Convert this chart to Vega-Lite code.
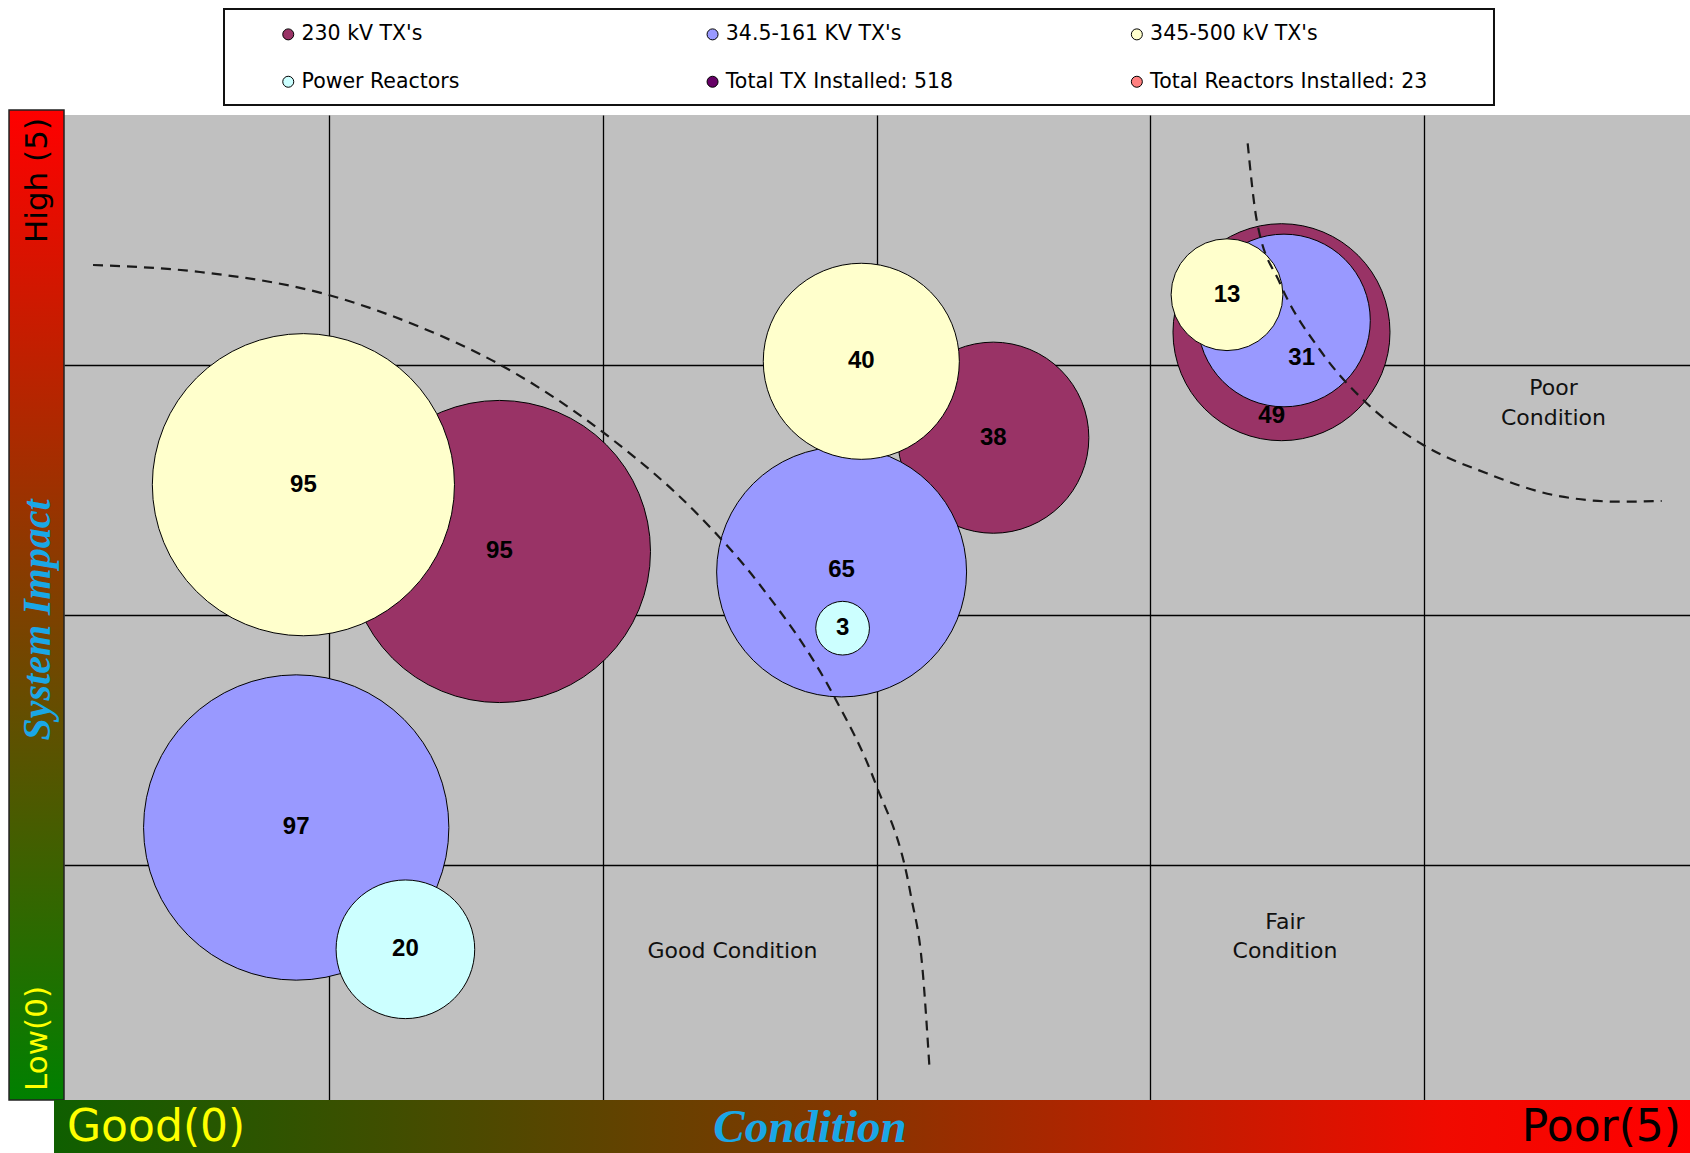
{
  "$schema": "https://vega.github.io/schema/vega-lite/v6.json",
  "width": 1626,
  "height": 985,
  "autosize": {"type": "none"},
  "padding": {"left": 64, "top": 115, "right": 0, "bottom": 53},
  "background": "white",
  "config": {"view": {"fill": "#c0c0c0", "stroke": null}},
  "datasets": {
    "bubbles": [
      {"series": "230 kV TX's", "x": 1.6224, "y": 2.255, "n": 95, "lx": 1.6224, "ly": 2.255},
      {"series": "230 kV TX's", "x": 3.4262, "y": 2.7106, "n": 38, "lx": 3.4262, "ly": 2.7106},
      {"series": "230 kV TX's", "x": 4.4788, "y": 3.1329, "n": 49, "lx": 4.443, "ly": 2.7975},
      {"series": "34.5-161 KV TX's", "x": 0.8802, "y": 1.1501, "n": 97, "lx": 0.8802, "ly": 1.1501},
      {"series": "34.5-161 KV TX's", "x": 2.8722, "y": 2.173, "n": 65, "lx": 2.8722, "ly": 2.18},
      {"series": "34.5-161 KV TX's", "x": 4.4879, "y": 3.1798, "n": 31, "lx": 4.5526, "ly": 3.0284},
      {"series": "345-500 kV TX's", "x": 0.9065, "y": 2.5224, "n": 95, "lx": 0.9065, "ly": 2.5224},
      {"series": "345-500 kV TX's", "x": 2.9441, "y": 3.0164, "n": 40, "lx": 2.9441, "ly": 3.0164},
      {"series": "345-500 kV TX's", "x": 4.2798, "y": 3.283, "n": 13, "lx": 4.2798, "ly": 3.283},
      {"series": "Power Reactors", "x": 1.279, "y": 0.6625, "n": 20, "lx": 1.279, "ly": 0.6625},
      {"series": "Power Reactors", "x": 2.8758, "y": 1.948, "n": 3, "lx": 2.8758, "ly": 1.948}
    ],
    "curves": [
      {"curve": "A", "x": 0.1381, "y": 3.4019},
      {"curve": "A", "x": 0.5289, "y": 3.3739},
      {"curve": "A", "x": 0.9985, "y": 3.2818},
      {"curve": "A", "x": 1.3324, "y": 3.1537},
      {"curve": "A", "x": 1.6161, "y": 3.008},
      {"curve": "A", "x": 1.9993, "y": 2.7334},
      {"curve": "A", "x": 2.355, "y": 2.3943},
      {"curve": "A", "x": 2.5741, "y": 2.1209},
      {"curve": "A", "x": 2.8418, "y": 1.6806},
      {"curve": "A", "x": 2.9953, "y": 1.3283},
      {"curve": "A", "x": 3.1245, "y": 0.8815},
      {"curve": "A", "x": 3.168, "y": 0.5797},
      {"curve": "A", "x": 3.1925, "y": 0.1994},
      {"curve": "B", "x": 4.3553, "y": 3.8891},
      {"curve": "B", "x": 4.3882, "y": 3.5821},
      {"curve": "B", "x": 4.4733, "y": 3.3287},
      {"curve": "B", "x": 4.6194, "y": 3.0616},
      {"curve": "B", "x": 4.7776, "y": 2.8615},
      {"curve": "B", "x": 4.9967, "y": 2.6814},
      {"curve": "B", "x": 5.2283, "y": 2.5681},
      {"curve": "B", "x": 5.4715, "y": 2.4812},
      {"curve": "B", "x": 5.7151, "y": 2.4544},
      {"curve": "B", "x": 5.8674, "y": 2.4572}
    ]
  },
  "layer": [
    {
      "data": {"values": [{}]},
      "mark": {"type": "rect", "fill": {"gradient": "linear", "x1": 0, "y1": 0, "x2": 0, "y2": 1, "stops": [{"offset": 0, "color": "#ff0000"}, {"offset": 1, "color": "#008000"}]}, "stroke": "#222", "strokeWidth": 1.5},
      "encoding": {
        "x": {"datum": -0.1687, "type": "quantitative", "scale": {"domain": [0.0321, 5.9708], "nice": false, "zero": false}, "axis": {"values": [1, 2, 3, 4, 5], "grid": true, "gridColor": "#000", "gridWidth": 1.3, "gridOpacity": 1, "labels": false, "ticks": false, "domain": false, "title": null}},
        "x2": {"datum": 0.0321},
        "y": {"datum": 4.0224, "type": "quantitative", "scale": {"domain": [0.0592, 4.0024], "nice": false, "zero": false}, "axis": {"values": [1, 2, 3], "grid": true, "gridColor": "#000", "gridWidth": 1.3, "gridOpacity": 1, "labels": false, "ticks": false, "domain": false, "title": null}},
        "y2": {"datum": 0.0592}
      }
    },
    {
      "data": {"values": [{}]},
      "mark": {"type": "rect", "fill": {"gradient": "linear", "x1": 0, "y1": 0, "x2": 1, "y2": 0, "stops": [{"offset": 0, "color": "#0f5f00"}, {"offset": 0.45, "color": "#7a3a00"}, {"offset": 0.85, "color": "#f00a00"}, {"offset": 1, "color": "#ff0000"}]}},
      "encoding": {
        "x": {"datum": -0.0044, "type": "quantitative", "axis": {"values": [1, 2, 3, 4, 5], "grid": true, "gridColor": "#000", "gridWidth": 1.3, "gridOpacity": 1, "labels": false, "ticks": false, "domain": false, "title": null}},
        "x2": {"datum": 5.9708},
        "y": {"datum": 0.0592, "type": "quantitative", "axis": {"values": [1, 2, 3], "grid": true, "gridColor": "#000", "gridWidth": 1.3, "gridOpacity": 1, "labels": false, "ticks": false, "domain": false, "title": null}},
        "y2": {"datum": -0.1529}
      }
    },
    {
      "data": {"values": [{}]},
      "mark": {"type": "rect", "fill": "white", "stroke": "#111", "strokeWidth": 2},
      "encoding": {
        "x": {"datum": 0.6165, "type": "quantitative", "axis": {"values": [1, 2, 3, 4, 5], "grid": true, "gridColor": "#000", "gridWidth": 1.3, "gridOpacity": 1, "labels": false, "ticks": false, "domain": false, "title": null}},
        "x2": {"datum": 5.2549},
        "y": {"datum": 4.4268, "type": "quantitative", "axis": {"values": [1, 2, 3], "grid": true, "gridColor": "#000", "gridWidth": 1.3, "gridOpacity": 1, "labels": false, "ticks": false, "domain": false, "title": null}},
        "y2": {"datum": 4.0424}
      }
    },
    {
      "data": {"name": "bubbles"},
      "mark": {"type": "point", "shape": "circle", "filled": true, "opacity": 1, "stroke": "#000", "strokeWidth": 1},
      "encoding": {
        "x": {"field": "x", "type": "quantitative", "scale": {"domain": [0.0321, 5.9708], "nice": false, "zero": false}, "axis": {"values": [1, 2, 3, 4, 5], "grid": true, "gridColor": "#000", "gridWidth": 1.3, "gridOpacity": 1, "labels": false, "ticks": false, "domain": false, "title": null}},
        "y": {"field": "y", "type": "quantitative", "scale": {"domain": [0.0592, 4.0024], "nice": false, "zero": false}, "axis": {"values": [1, 2, 3], "grid": true, "gridColor": "#000", "gridWidth": 1.3, "gridOpacity": 1, "labels": false, "ticks": false, "domain": false, "title": null}},
        "size": {"field": "n", "type": "quantitative", "scale": {"domain": [0, 100], "range": [0, 96100]}, "legend": null},
        "color": {
          "field": "series", "type": "nominal",
          "scale": {"domain": ["230 kV TX's", "34.5-161 KV TX's", "345-500 kV TX's", "Power Reactors", "Total TX Installed:  518", "Total Reactors Installed:  23"], "range": ["#993366", "#9999ff", "#ffffcc", "#ccffff", "#660066", "#ff8080"]},
          "legend": {"orient": "none", "legendX": 214, "legendY": -91, "direction": "horizontal", "columns": 3, "gridAlign": "all", "title": null, "padding": 0, "symbolType": "circle", "symbolSize": 121, "symbolStrokeColor": "#000", "symbolStrokeWidth": 1, "symbolOpacity": 1, "labelFont": "DejaVu Sans", "labelFontSize": 20.5, "labelColor": "#000", "labelOffset": 3, "labelLimit": 500, "columnPadding": 116.3, "rowPadding": 26.5}
        }
      }
    },
    {
      "data": {"name": "bubbles"},
      "mark": {"type": "text", "font": "Liberation Sans", "fontSize": 24, "fontWeight": "bold", "color": "#000", "align": "center", "baseline": "middle"},
      "encoding": {
        "x": {"field": "lx", "type": "quantitative", "axis": {"values": [1, 2, 3, 4, 5], "grid": true, "gridColor": "#000", "gridWidth": 1.3, "gridOpacity": 1, "labels": false, "ticks": false, "domain": false, "title": null}},
        "y": {"field": "ly", "type": "quantitative", "axis": {"values": [1, 2, 3], "grid": true, "gridColor": "#000", "gridWidth": 1.3, "gridOpacity": 1, "labels": false, "ticks": false, "domain": false, "title": null}},
        "text": {"field": "n", "type": "quantitative"}
      }
    },
    {
      "data": {"name": "curves"},
      "mark": {"type": "line", "interpolate": "monotone", "strokeDash": [10, 7], "strokeWidth": 2.2, "color": "#1a1a1a"},
      "encoding": {
        "x": {"field": "x", "type": "quantitative", "axis": {"values": [1, 2, 3, 4, 5], "grid": true, "gridColor": "#000", "gridWidth": 1.3, "gridOpacity": 1, "labels": false, "ticks": false, "domain": false, "title": null}},
        "y": {"field": "y", "type": "quantitative", "axis": {"values": [1, 2, 3], "grid": true, "gridColor": "#000", "gridWidth": 1.3, "gridOpacity": 1, "labels": false, "ticks": false, "domain": false, "title": null}},
        "detail": {"field": "curve"}
      }
    },
    {
      "data": {"values": [{}]},
      "mark": {"type": "text", "text": "Good Condition", "font": "DejaVu Sans", "fontSize": 22, "color": "#111", "align": "center", "baseline": "middle"},
      "encoding": {"x": {"datum": 2.4737, "type": "quantitative"}, "y": {"datum": 0.6569, "type": "quantitative"}}
    },
    {
      "data": {"values": [{}]},
      "mark": {"type": "text", "text": ["Fair", "Condition"], "lineHeight": 29.5, "font": "DejaVu Sans", "fontSize": 22, "color": "#111", "align": "center", "baseline": "middle"},
      "encoding": {"x": {"datum": 4.4916, "type": "quantitative"}, "y": {"datum": 0.773, "type": "quantitative"}}
    },
    {
      "data": {"values": [{}]},
      "mark": {"type": "text", "text": ["Poor", "Condition"], "lineHeight": 29.5, "font": "DejaVu Sans", "fontSize": 22, "color": "#111", "align": "center", "baseline": "middle"},
      "encoding": {"x": {"datum": 5.4722, "type": "quantitative"}, "y": {"datum": 2.9083, "type": "quantitative"}}
    },
    {
      "data": {"values": [{}]},
      "mark": {"type": "text", "text": "High (5)", "angle": 270, "font": "DejaVu Sans", "fontSize": 31, "color": "#000", "align": "right", "baseline": "middle"},
      "encoding": {"x": {"datum": -0.0639, "type": "quantitative"}, "y": {"datum": 3.9904, "type": "quantitative"}}
    },
    {
      "data": {"values": [{}]},
      "mark": {"type": "text", "text": "System Impact", "angle": 270, "font": "Liberation Serif", "fontSize": 40, "fontStyle": "italic", "fontWeight": "bold", "color": "#1aa7e6", "align": "center", "baseline": "middle"},
      "encoding": {"x": {"datum": -0.0639, "type": "quantitative"}, "y": {"datum": 1.9808, "type": "quantitative"}}
    },
    {
      "data": {"values": [{}]},
      "mark": {"type": "text", "text": "Low(0)", "angle": 270, "font": "DejaVu Sans", "fontSize": 31, "color": "#ffff00", "align": "left", "baseline": "middle"},
      "encoding": {"x": {"datum": -0.0639, "type": "quantitative"}, "y": {"datum": 0.0953, "type": "quantitative"}}
    },
    {
      "data": {"values": [{}]},
      "mark": {"type": "text", "text": "Good(0)", "font": "DejaVu Sans", "fontSize": 44, "color": "#ffff00", "align": "left", "baseline": "middle"},
      "encoding": {"x": {"datum": 0.0431, "type": "quantitative"}, "y": {"datum": -0.0528, "type": "quantitative"}}
    },
    {
      "data": {"values": [{}]},
      "mark": {"type": "text", "text": "Condition", "font": "Liberation Serif", "fontSize": 47, "fontStyle": "italic", "fontWeight": "bold", "color": "#1aa7e6", "align": "center", "baseline": "middle"},
      "encoding": {"x": {"datum": 2.7568, "type": "quantitative"}, "y": {"datum": -0.0528, "type": "quantitative"}}
    },
    {
      "data": {"values": [{}]},
      "mark": {"type": "text", "text": "Poor(5)", "font": "DejaVu Sans", "fontSize": 44, "color": "#000", "align": "right", "baseline": "middle"},
      "encoding": {"x": {"datum": 5.9379, "type": "quantitative"}, "y": {"datum": -0.0528, "type": "quantitative"}}
    }
  ]
}
